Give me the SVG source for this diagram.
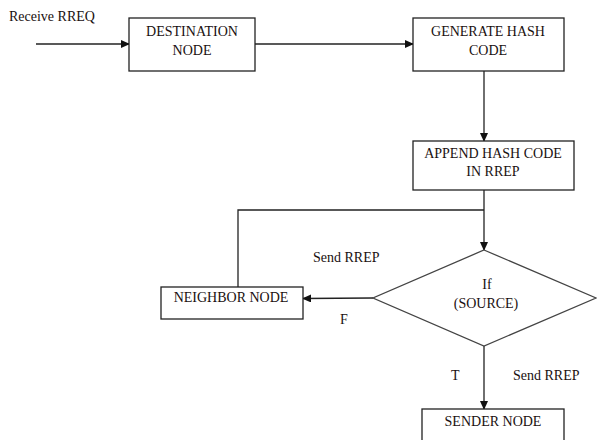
<svg xmlns="http://www.w3.org/2000/svg" width="597" height="440" viewBox="0 0 597 440">
<style>
.box{fill:#fff;stroke:#222;stroke-width:1.3}
.dia{fill:#fff;stroke:#444;stroke-width:1.3}
.ln{fill:none;stroke:#222;stroke-width:1.3}
text{font-family:"Liberation Serif","Times New Roman",serif;font-size:14px;fill:#1a1010}
.c{text-anchor:middle}
</style>
<defs>
<marker id="ah" markerWidth="9" markerHeight="8" refX="8" refY="4" orient="auto" markerUnits="userSpaceOnUse">
<path d="M0,0 L9,4 L0,8 z" fill="#111"/>
</marker>
</defs>
<rect width="597" height="440" fill="#fff"/>
<g id="connectors">
<line class="ln" x1="36" y1="44" x2="129" y2="44" marker-end="url(#ah)"/>
<line class="ln" x1="255" y1="44" x2="413" y2="44" marker-end="url(#ah)"/>
<line class="ln" x1="484" y1="71" x2="484" y2="141" marker-end="url(#ah)"/>
<line class="ln" x1="484" y1="190" x2="484" y2="250" marker-end="url(#ah)"/>
<polyline class="ln" points="484,210 238,210 238,287"/>
<line class="ln" x1="373" y1="298" x2="303" y2="298.5" marker-end="url(#ah)"/>
<line class="ln" x1="484" y1="346" x2="484" y2="409" marker-end="url(#ah)"/>
<text x="9" y="21">Receive RREQ</text>
<text x="313" y="262">Send RREP</text>
<text x="340" y="324">F</text>
<text x="451" y="380">T</text>
<text x="513" y="380">Send RREP</text>
</g>
<g id="destination">
<rect class="box" x="129" y="18" width="126" height="53"/>
<text class="c" x="192" y="36">DESTINATION</text>
<text class="c" x="192" y="55">NODE</text>
</g>
<g id="generate">
<rect class="box" x="413" y="18" width="151" height="53"/>
<text class="c" x="488" y="36">GENERATE HASH</text>
<text class="c" x="488" y="55">CODE</text>
</g>
<g id="append">
<rect class="box" x="413" y="141" width="161" height="49"/>
<text class="c" x="493" y="158">APPEND HASH CODE</text>
<text class="c" x="493" y="176">IN RREP</text>
</g>
<g id="decision">
<polygon class="dia" points="484,250 596,298 484,346 373,298"/>
<text class="c" x="487" y="289">If</text>
<text class="c" x="486" y="308">(SOURCE)</text>
</g>
<g id="neighbor">
<rect class="box" x="161" y="287" width="142" height="32"/>
<text class="c" x="231" y="302">NEIGHBOR NODE</text>
</g>
<g id="sender">
<rect class="box" x="422" y="409" width="142" height="40"/>
<text class="c" x="493" y="426">SENDER NODE</text>
</g>
</svg>
